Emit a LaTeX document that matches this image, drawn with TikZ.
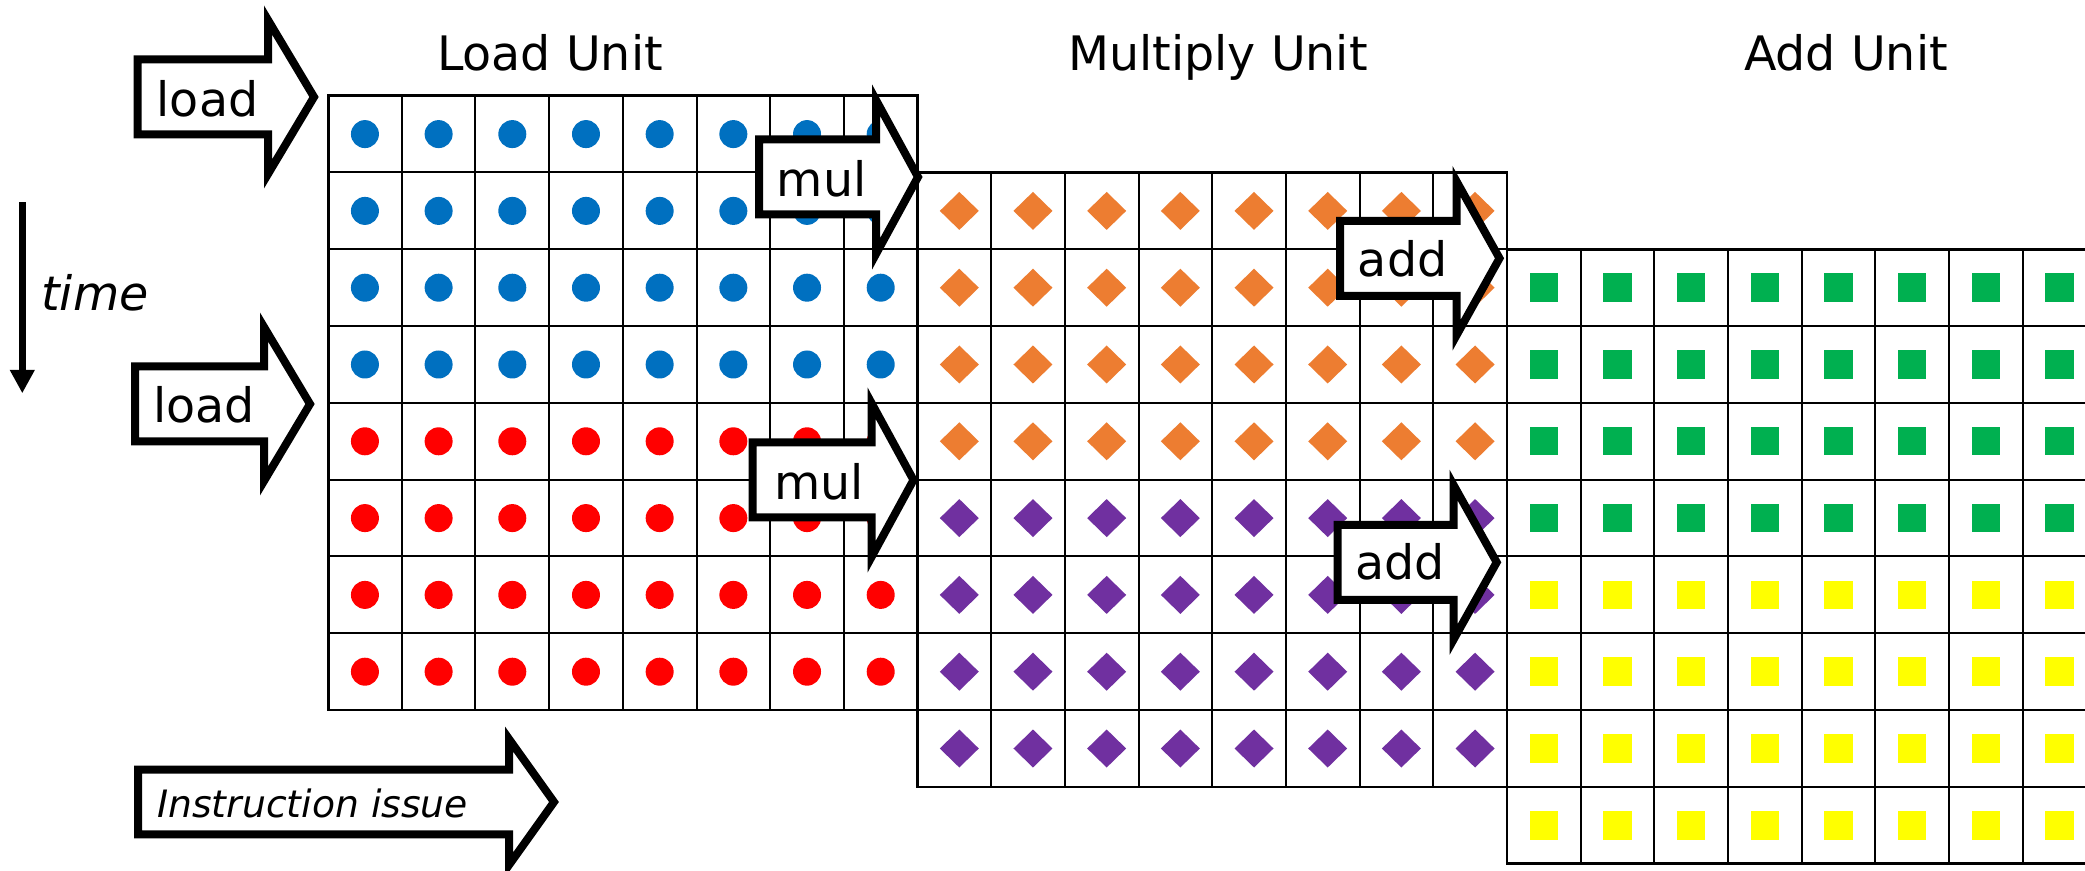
\documentclass[tikz,border=0pt]{standalone}
\usepackage{fontspec}
\setmainfont{DejaVu Sans}
\usepackage{tikz}
\usetikzlibrary{arrows.meta}
\usetikzlibrary{positioning}

\definecolor{ldblue}{HTML}{0070C0}
\definecolor{ldred}{HTML}{FF0000}
\definecolor{mulorange}{HTML}{ED7D31}
\definecolor{mulpurple}{HTML}{7030A0}
\definecolor{addgreen}{HTML}{00B050}
\definecolor{addyellow}{HTML}{FFFF00}

% tip, head length, body length, body half height, head half height
\newcommand{\oparrow}[5]{%
  \draw[blockarrow] (#1) -- ++(-#2,-#5) -- ++(0,#5-#4) -- ++(-#3,0)
    -- ++(0,2*#4) -- ++(#3,0) -- ++(0,#5-#4) -- cycle;}

\begin{document}
\begin{tikzpicture}[x=0.5pt, y=-0.5pt,
        cell/.style={draw=black, line width=1pt},
        gridframe/.style={draw=black, line width=1.4pt},
        blockarrow/.style={draw=black, fill=white, line width=4pt, miter limit=20},
        optext/.style={font=\fontsize{23.75}{28}\selectfont, inner sep=0pt, anchor=base},
        slanttext/.style={font=\fontsize{#1}{#1}\selectfont\itshape, inner sep=0pt, anchor=base},
        timeline/.style={line width=3.3pt, -{Triangle[length=11.7pt,width=11.7pt]}}]

      \useasboundingbox[fill=white] (0,0) rectangle (2085,871);

      % load unit
      \foreach \r in {0,...,7}
        \foreach \c in {0,...,7} {
          \draw[cell] (328.1+\c*73.68,95.7+\r*76.8) rectangle ++(73.68,76.8);
          \ifnum\r<4 \def\tint{ldblue}\else\def\tint{ldred}\fi
          \fill[fill=\tint] (364.94+\c*73.68,134.1+\r*76.8) circle[radius=7pt];
        }
      \draw[gridframe] (328.1,95.7) rectangle ++(589.4,614.4);

      % multiply unit
      \foreach \r in {0,...,7}
        \foreach \c in {0,...,7} {
          \draw[cell] (917.5+\c*73.68,172.5+\r*76.8) rectangle ++(73.68,76.8);
          \ifnum\r<4 \def\tint{mulorange}\else\def\tint{mulpurple}\fi
          \fill[fill=\tint] (959.3+\c*73.68,210.9+\r*76.8) ++(0,-19) -- ++(19.5,19)
            -- ++(-19.5,19) -- ++(-19.5,-19) -- cycle;
        }
      \draw[gridframe] (917.5,172.5) rectangle ++(589.4,614.4);

      % add unit
      \foreach \r in {0,...,7}
        \foreach \c in {0,...,7} {
          \draw[cell] (1506.9+\c*73.68,249.3+\r*76.8) rectangle ++(73.68,76.8);
          \ifnum\r<4 \def\tint{addgreen}\else\def\tint{addyellow}\fi
          \fill[fill=\tint] (1529.5+\c*73.68,273.5+\r*76.8) rectangle ++(28.4,28.4);
        }
      \draw[gridframe] (1506.9,249.3) rectangle ++(589.4,614.4);

      \node[optext] (unit_ld) at (550,70.5)  {Load Unit};
      \node[optext] (unit_ml) at (1218,70.5) {Multiply Unit};
      \node[optext] (unit_ad) at (1846,70.5) {Add Unit};

      % issue arrows
      \coordinate (ld_1tip) at (314,97);
      \coordinate (ld_2tip) at (310,404);
      \coordinate (ml_1tip) at (918,177);
      \coordinate (ml_2tip) at (913.5,480);
      \coordinate (ad_1tip) at (1499.5,258.3);
      \coordinate (ad_2tip) at (1496.7,562.3);
      \coordinate (issue_tip) at (554,802);

      \oparrow{ld_1tip}{46}{130.5}{37.5}{77}
      \oparrow{ld_2tip}{46}{129}{37.5}{77}
      \oparrow{ml_1tip}{42}{117}{37.5}{77}
      \oparrow{ml_2tip}{42}{119}{37.5}{77}
      \oparrow{ad_1tip}{43}{116.5}{37.5}{77}
      \oparrow{ad_2tip}{43}{116}{37.5}{77}
      \oparrow{issue_tip}{45}{371}{32.3}{63}

      \node[optext] (ld_1) at (207.5,116.7) {load};
      \node[optext] (ld_2) at (204,422.7)   {load};
      \node[optext] (ml_1) at (821.7,196.7) {mul};
      \node[optext] (ml_2) at (819,499.3)   {mul};
      \node[optext] (ad_1) at (1402.6,276.5) {add};
      \node[optext] (ad_2) at (1400,580)    {add};
      \node[slanttext=18.85] (issue) at (312.6,817) {Instruction issue};

      % time axis
      \coordinate (time_top) at (22.3,202.3);
      \coordinate (time_bot) at (22.3,393.3);
      \draw[timeline] (time_top) -- (time_bot);
      \node[slanttext=23.75] (time) at (95,310.5) {time};

\end{tikzpicture}
\end{document}
